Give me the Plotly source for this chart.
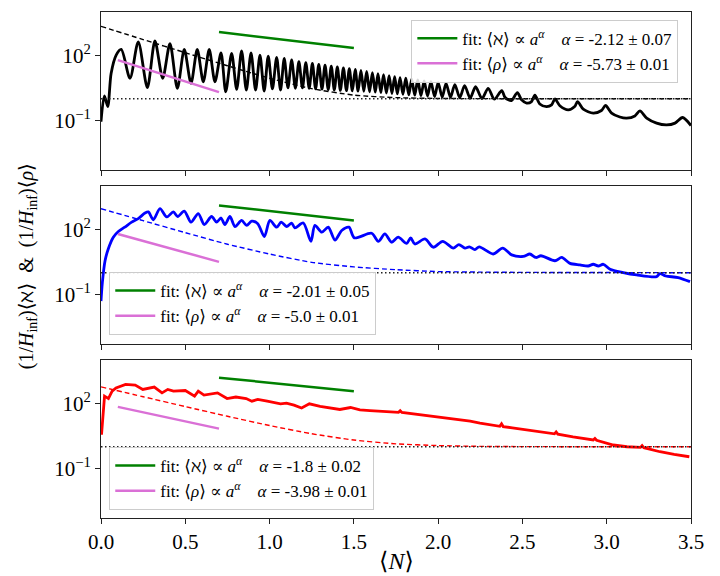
import plotly.graph_objects as go

# ---------------- data ----------------
black_x = [0.000, 0.020, 0.040, 0.060, 0.090, 0.120, 0.172, 0.221, 0.275, 0.320, 0.366, 0.409, 0.453, 0.494,
           0.534, 0.571, 0.607, 0.642, 0.676, 0.712, 0.740, 0.775, 0.805, 0.834, 0.862, 0.890, 0.917, 0.943,
           0.968, 0.992, 1.017, 1.042, 1.065, 1.087, 1.109, 1.131, 1.153, 1.174, 1.195, 1.215, 1.235, 1.254,
           1.273, 1.292, 1.311, 1.329, 1.348, 1.366, 1.384, 1.402, 1.420, 1.438, 1.456, 1.473, 1.491, 1.508,
           1.525, 1.542, 1.559, 1.576, 1.593, 1.610, 1.627, 1.643, 1.660, 1.676, 1.693, 1.709, 1.726, 1.742,
           1.758, 1.774, 1.791, 1.808, 1.826, 1.843, 1.861, 1.879, 1.898, 1.917, 1.937, 1.957, 1.979, 2.000,
           2.024, 2.047, 2.073, 2.099, 2.128, 2.157, 2.190, 2.222, 2.260, 2.297, 2.333, 2.377, 2.396, 2.416,
           2.436, 2.470, 2.495, 2.525, 2.554, 2.574, 2.603, 2.643, 2.673, 2.693, 2.722, 2.772, 2.810, 2.827,
           2.861, 2.920, 2.969, 2.993, 3.029, 3.078, 3.118, 3.167, 3.197, 3.237, 3.296, 3.355, 3.405, 3.450,
           3.500]
black_y = [0.089, 1.35, 0.437, 14.5, 100, 182, 8.71, 407, 3.24, 447, 8.71, 339, 3.02, 182,
           5.13, 182, 6.03, 182, 6.03, 126, 2.09, 120, 2.69, 158, 2.51, 126, 2.51, 100,
           2.24, 89.1, 2.82, 79.4, 2.51, 70.8, 3.16, 60.3, 3.02, 50.1, 3.16, 45.7, 3.02, 41.7,
           2.82, 38.0, 2.75, 34.7, 2.63, 31.6, 2.51, 28.8, 2.40, 26.3, 2.34, 24.0, 2.29, 21.9,
           2.24, 20.0, 2.19, 17.8, 2.09, 15.8, 2.00, 14.1, 1.91, 12.6, 1.82, 11.5, 1.74, 10.2,
           1.66, 9.33, 1.58, 8.71, 1.51, 7.94, 1.45, 7.24, 1.38, 6.61, 1.32, 6.03, 1.26, 5.50,
           1.20, 5.01, 1.17, 4.47, 1.12, 3.98, 1.07, 3.55, 1.02, 3.02, 0.955, 2.34, 1.17, 0.891,
           0.832, 1.91, 0.891, 0.631, 0.741, 1.48, 0.575, 0.437, 0.525, 0.977, 0.479, 0.309, 0.437, 0.741,
           0.331, 0.219, 0.288, 0.490, 0.219, 0.145, 0.129, 0.162, 0.275, 0.129, 0.076, 0.063, 0.076, 0.138,
           0.059]

blue_x = [0.000, 0.008, 0.024, 0.043, 0.073, 0.103, 0.141, 0.182, 0.221, 0.261, 0.281, 0.310, 0.350, 0.390,
          0.429, 0.455, 0.494, 0.534, 0.577, 0.613, 0.656, 0.686, 0.712, 0.735, 0.765, 0.795, 0.834, 0.864,
          0.894, 0.930, 0.969, 1.002, 1.042, 1.069, 1.101, 1.131, 1.150, 1.200, 1.245, 1.269, 1.310, 1.348,
          1.388, 1.428, 1.471, 1.503, 1.605, 1.645, 1.684, 1.724, 1.763, 1.813, 1.837, 1.862, 1.922, 1.971,
          2.027, 2.090, 2.123, 2.159, 2.185, 2.218, 2.244, 2.327, 2.383, 2.436, 2.505, 2.544, 2.580, 2.610,
          2.693, 2.733, 2.782, 2.841, 2.890, 2.920, 2.950, 2.980, 3.020, 3.098, 3.177, 3.296, 3.316, 3.350,
          3.424, 3.494]
blue_y = [0.05, 0.355, 3.55, 12.3, 42.7, 77.6, 123, 209, 302, 550, 617, 269, 871, 363,
          617, 380, 676, 209, 513, 162, 380, 209, 324, 162, 380, 132, 251, 148,
          234, 178, 45.7, 251, 123, 209, 132, 191, 115, 191, 27.5, 148, 72.4, 123,
          31.6, 87.1, 123, 39.8, 64.6, 27.5, 60.3, 25.1, 42.7, 22.4, 39.8, 20.9, 35.5, 14.8,
          27.5, 13.5, 19.5, 13.5, 15.5, 11.5, 15.5, 7.24, 13.5, 6.61, 5.62, 7.24, 5.01, 6.03,
          3.55, 5.01, 2.69, 2.29, 2.04, 2.45, 2.04, 2.45, 1.45, 1.02, 0.794, 0.661, 0.912, 0.708,
          0.603, 0.389]

red_x = [0.003, 0.021, 0.044, 0.066, 0.089, 0.146, 0.203, 0.248, 0.316, 0.362, 0.396, 0.430, 0.500, 0.555,
         0.577, 0.611, 0.691, 0.748, 0.800, 0.861, 0.895, 0.930, 0.986, 1.065, 1.100, 1.145, 1.190, 1.236,
         1.300, 1.417, 1.480, 1.536, 1.595, 1.650, 1.694, 1.765, 1.775, 1.785, 1.850, 1.920, 2.000, 2.060,
         2.129, 2.190, 2.248, 2.300, 2.366, 2.376, 2.386, 2.440, 2.505, 2.600, 2.690, 2.700, 2.710, 2.800,
         2.920, 2.930, 2.940, 3.039, 3.120, 3.200, 3.210, 3.220, 3.316, 3.400, 3.490]
red_y = [3.55, 209, 162, 355, 501, 724, 676, 427, 550, 295, 427, 355, 380, 209,
         355, 234, 295, 162, 191, 162, 123, 148, 123, 93.3, 100, 81.3, 60.3, 93.3,
         70.8, 51.3, 63.1, 49.0, 45.7, 41.7, 40.7, 38.0, 44.7, 37.5, 32.4, 28.8, 24.0, 20.9,
         17.0, 14.8, 12.0, 10.5, 8.7, 11.2, 8.4, 7.4, 6.31, 5.01, 3.9, 4.8, 3.8, 2.82,
         2.04, 2.4, 1.98, 1.20, 1.0, 0.93, 1.12, 0.91, 0.589, 0.447, 0.347]

dash_x = [0.0, 0.25, 0.5, 0.75, 1.0, 1.25, 1.5, 1.75, 2.0, 2.25, 2.5, 3.0, 3.5]
black_dash_y = [2100, 519, 129, 32.5, 8.75, 2.9, 1.47, 1.12, 1.03, 1.01, 1.0, 1.0, 1.0]
blue_dash_y = [870, 245, 69, 20.4, 7.2, 3.0, 1.85, 1.38, 1.13, 1.07, 1.04, 1.02, 1.0]
red_dash_y = [560, 197, 69.6, 25, 9.4, 3.94, 2.03, 1.36, 1.13, 1.04, 1.015, 1.0, 1.0]

hline_x = [0.0, 3.5]
hline_y = [1.0, 1.0]

green_x = [0.7, 1.5]
pink_x = [0.1, 0.7]
green_y = [[1148, 214], [1230, 251], [1479, 355]]
pink_y = [[58.9, 2.0], [60.3, 3.16], [67.6, 6.76]]
green_alpha = ["-2.12 ± 0.07", "-2.01 ± 0.05", "-1.8 ± 0.02"]
pink_alpha = ["-5.73 ± 0.01", "-5.0 ± 0.01", "-3.98 ± 0.01"]

x_ticks = [0.0, 0.5, 1.0, 1.5, 2.0, 2.5, 3.0, 3.5]
x_ticktext = ["0.0", "0.5", "1.0", "1.5", "2.0", "2.5", "3.0", "3.5"]
y_ticks = [0.1, 100]
y_ticktext = ["10<sup>−1</sup>", "10<sup>2</sup>"]

# ---------------- figure ----------------
FONT = "Liberation Serif, DejaVu Serif, serif"
NB = "\u00a0"
fig = go.Figure()

panels = [
    (black_x, black_y, "black", black_dash_y),
    (blue_x, blue_y, "#0000ff", blue_dash_y),
    (red_x, red_y, "#ff0000", red_dash_y),
]

for i, (sx, sy, col, dy) in enumerate(panels):
    sfx = "" if i == 0 else str(i + 1)
    xa, ya = "x" + sfx, "y" + sfx
    lg = "legend" + sfx
    shape = "spline" if i < 2 else "linear"
    fig.add_trace(go.Scatter(x=sx, y=sy, mode="lines", xaxis=xa, yaxis=ya,
                             line=dict(color=col, width=2.8, shape=shape, smoothing=0.8),
                             showlegend=False))
    fig.add_trace(go.Scatter(x=dash_x, y=dy, mode="lines", xaxis=xa, yaxis=ya,
                             line=dict(color=col, width=1.4, dash="5px,3px", shape="spline", smoothing=0.6),
                             showlegend=False))
    fig.add_trace(go.Scatter(x=hline_x, y=hline_y, mode="lines", xaxis=xa, yaxis=ya,
                             line=dict(color="#222222", width=1.5, dash="1.5px,2.5px"),
                             showlegend=False))
    fig.add_trace(go.Scatter(x=green_x, y=green_y[i], mode="lines", xaxis=xa, yaxis=ya,
                             line=dict(color="#008000", width=2.5), legend=lg,
                             name="fit: ⟨ℵ⟩ ∝ <i>a</i><sup><i>α</i></sup>" + NB * 4 + "<i>α</i> = " + green_alpha[i]))
    fig.add_trace(go.Scatter(x=pink_x, y=pink_y[i], mode="lines", xaxis=xa, yaxis=ya,
                             line=dict(color="#da70d6", width=2.5), legend=lg,
                             name="fit: ⟨<i>ρ</i>⟩ ∝ <i>a</i><sup><i>α</i></sup>" + NB * 4 + "<i>α</i> = " + pink_alpha[i]))

H_TOP, H_BOT = 12, 518
PH = H_BOT - H_TOP
def dom(top_px, bot_px):
    return [(H_BOT - bot_px) / PH, (H_BOT - top_px) / PH]

domains = [dom(12, 170), dom(186, 344), dom(360, 518)]

axis_common = dict(showline=True, mirror=True, linecolor="#222222", linewidth=1,
                   ticks="outside", ticklen=5, tickwidth=1, tickcolor="#222222",
                   showgrid=False, zeroline=False,
                   tickfont=dict(family=FONT, size=21, color="black"))

layout = dict(
    width=720, height=576,
    margin=dict(l=101, r=29, t=H_TOP, b=576 - H_BOT, autoexpand=False),
    paper_bgcolor="white", plot_bgcolor="white",
    font=dict(family=FONT, color="black"),
)
for i in range(3):
    sfx = "" if i == 0 else str(i + 1)
    layout["xaxis" + sfx] = dict(axis_common, range=[0, 3.5], domain=[0, 1], anchor="y" + sfx,
                                 tickvals=x_ticks, ticktext=x_ticktext,
                                 showticklabels=(i == 2))
    layout["yaxis" + sfx] = dict(axis_common, type="log", range=[-3.27, 3.98], domain=domains[i],
                                 anchor="x" + sfx, tickvals=y_ticks, ticktext=y_ticktext)

leg_common = dict(font=dict(family=FONT, size=17, color="black"), bgcolor="rgba(255,255,255,0.85)",
                  bordercolor="#cccccc", borderwidth=1, tracegroupgap=0, itemwidth=40)
layout["legend"] = dict(leg_common, x=0.526, y=0.985, xanchor="left", yanchor="top")
layout["legend2"] = dict(leg_common, x=0.014, y=(518 - 335) / PH, xanchor="left", yanchor="bottom")
layout["legend3"] = dict(leg_common, x=0.014, y=(518 - 510) / PH, xanchor="left", yanchor="bottom")

fig.update_layout(**layout)

fig.add_annotation(text="⟨<i>N</i>⟩", xref="paper", yref="paper", x=0.5, y=-0.055,
                   xanchor="center", yanchor="top", showarrow=False,
                   font=dict(family=FONT, size=24, color="black"))
fig.add_annotation(text="(1/<i>H</i><sub>inf</sub>)⟨ℵ⟩" + NB * 2 + "&amp;" + NB * 2 + "(1/<i>H</i><sub>inf</sub>)⟨<i>ρ</i>⟩",
                   xref="paper", yref="paper", x=-0.125, y=(518 - 266) / PH,
                   xanchor="center", yanchor="middle", textangle=-90, showarrow=False,
                   font=dict(family=FONT, size=20, color="black"))

fig.write_html("out.html", config={"displayModeBar": False},
               post_script="document.body.style.margin='0';")
